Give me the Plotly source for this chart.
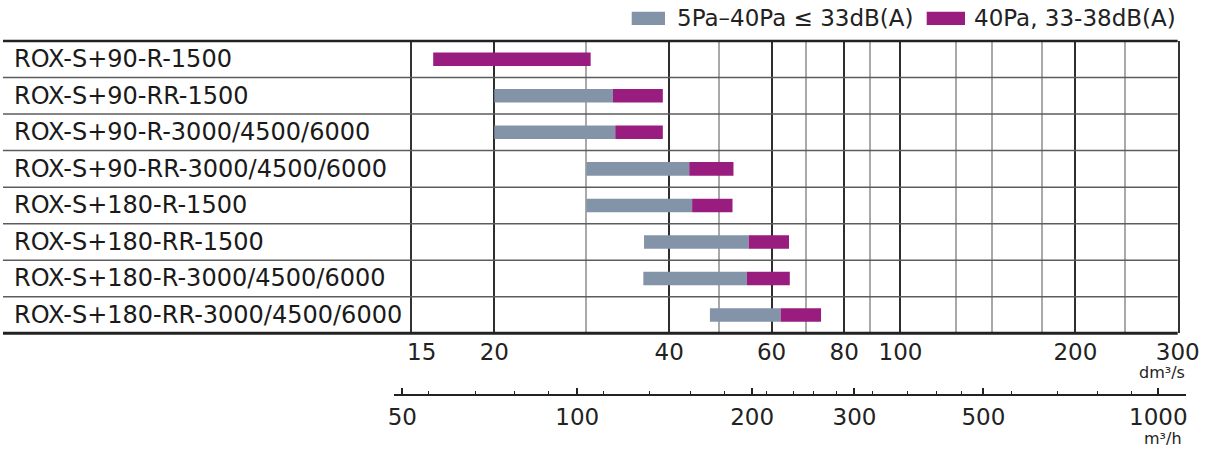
import plotly.graph_objects as go

# ---------------- data ----------------
labels = [
    "ROX-S+90-R-1500",
    "ROX-S+90-RR-1500",
    "ROX-S+90-R-3000/4500/6000",
    "ROX-S+90-RR-3000/4500/6000",
    "ROX-S+180-R-1500",
    "ROX-S+180-RR-1500",
    "ROX-S+180-R-3000/4500/6000",
    "ROX-S+180-RR-3000/4500/6000",
]
# 5Pa-40Pa <= 33dB(A) range (dm3/s)
quiet_start = [None, 20.0, 20.0, 28.8, 28.8, 36.2, 36.1, 47.0]
quiet_end = [None, 32.0, 32.3, 43.3, 43.8, 54.8, 54.4, 62.2]
# 40Pa, 33-38dB(A) range (dm3/s)
loud_start = [15.7, 32.0, 32.3, 43.3, 43.8, 54.8, 54.4, 62.2]
loud_end = [29.3, 39.0, 39.0, 51.6, 51.4, 64.3, 64.5, 73.0]

legend_names = ["5Pa\u201340Pa \u2264 33dB(A)", "40Pa, 33-38dB(A)"]

dm3s_ticks = [20, 40, 60, 80, 100, 200, 300]
dm3s_first_tick = [15]
dm3s_light_grid = [28.8, 48.7, 68.7, 88.6, 124.5, 144, 175, 243]
m3h_ticks = [50, 100, 200, 300, 500, 1000]
m3h_minor = [55.5, 66.7, 78, 89.4, 111, 133, 156.6, 179, 212, 236, 255, 279,
             322, 370, 415, 459, 558, 670, 787, 900, 1115]

# ---------------- style ----------------
FONT = "DejaVu Sans"
GREY = "#8494a8"
MAGENTA = "#981d7f"
DARK = "#222222"

W, H = 1206, 449
ML, MR = 3, 1206 - 1186
MT, MB = 41, 449 - 395
PW = W - ML - MR
PH = H - MT - MB


def px_x(p):
    return (p - ML) / PW


def px_y(p):
    return (H - MB - p) / PH


plot_left, plot_right, plot_bottom = 411.7, 1177.7, 333.3
x_dom = [px_x(plot_left), px_x(plot_right)]
y_dom = [px_y(plot_bottom), 1]

x_range = [1.15888, 2.47712]              # log10 dm3/s
x2_range = [1.68472, 3.04770]             # log10 m3/h
x2_dom = [px_x(394), 1]


def diff(a, b):
    return [None if (s is None or e is None) else e - s for s, e in zip(a, b)]


fig = go.Figure()
fig.add_trace(go.Bar(
    y=labels, x=diff(quiet_start, quiet_end), base=quiet_start,
    orientation="h", marker=dict(color=GREY, line=dict(width=0)),
    width=0.37, name=legend_names[0], showlegend=False, hoverinfo="skip"))
fig.add_trace(go.Bar(
    y=labels, x=diff(loud_start, loud_end), base=loud_start,
    orientation="h", marker=dict(color=MAGENTA, line=dict(width=0)),
    width=0.37, name=legend_names[1], showlegend=False, hoverinfo="skip"))
# invisible helpers so the extra axes are drawn
fig.add_trace(go.Scatter(x=[100], y=[labels[0]], xaxis="x2", yaxis="y",
                         mode="markers", marker=dict(opacity=0),
                         showlegend=False, hoverinfo="skip"))
fig.add_trace(go.Scatter(x=[20], y=[labels[0]], xaxis="x3", yaxis="y",
                         mode="markers", marker=dict(opacity=0),
                         showlegend=False, hoverinfo="skip"))

tickfont = dict(family=FONT, size=23, color=DARK)

fig.update_layout(
    template="none",
    width=W, height=H,
    margin=dict(l=ML, r=MR, t=MT, b=MB, pad=0, autoexpand=False),
    paper_bgcolor="white", plot_bgcolor="rgba(0,0,0,0)",
    barmode="overlay",
    font=dict(family=FONT, color=DARK),
    xaxis=dict(
        type="log", range=x_range, domain=x_dom, anchor="y", automargin=False,
        tickmode="array", tickvals=dm3s_ticks,
        ticktext=[str(v) for v in dm3s_ticks],
        ticks="", showline=False, zeroline=False,
        showgrid=True, gridcolor="#2e2e2e", gridwidth=1.5,
        minor=dict(tickmode="array", tickvals=dm3s_light_grid,
                   showgrid=True, gridcolor="#a9a9a9", gridwidth=1.5, ticks=""),
        tickfont=tickfont, ticklabelstandoff=3,
    ),
    xaxis3=dict(
        type="log", range=x_range, domain=x_dom, anchor="y", overlaying="x",
        automargin=False,
        tickmode="array", tickvals=dm3s_first_tick,
        ticktext=[str(v) for v in dm3s_first_tick],
        ticks="", showline=False, showgrid=False, zeroline=False,
        tickfont=tickfont, ticklabelstandoff=3,
    ),
    xaxis2=dict(
        type="log", range=x2_range, domain=x2_dom, anchor="free", position=0,
        automargin=False,
        tickmode="array", tickvals=m3h_ticks,
        ticktext=[str(v) for v in m3h_ticks],
        ticks="inside", ticklen=6, tickwidth=1.5, tickcolor=DARK,
        showline=True, linecolor=DARK, linewidth=2,
        showgrid=False, zeroline=False,
        minor=dict(tickmode="array", tickvals=m3h_minor, ticks="inside",
                   ticklen=3.5, tickwidth=1.2, tickcolor=DARK, showgrid=False),
        tickfont=tickfont, ticklabelstandoff=1,
    ),
    yaxis=dict(
        type="category", categoryorder="array", categoryarray=labels,
        range=[len(labels) - 0.5, -0.5], domain=y_dom, automargin=False,
        showticklabels=False, ticks="", showgrid=False, zeroline=False,
        showline=True, mirror=True, linecolor="#333333", linewidth=1.5,
    ),
)

# table rows: separators and labels
shapes = []
for i in range(len(labels) - 1):
    shapes.append(dict(type="line", xref="paper", yref="y",
                       x0=0, x1=x_dom[1], y0=i + 0.5, y1=i + 0.5,
                       line=dict(color="#5c5c5c", width=1.5), layer="above"))
shapes.append(dict(type="line", xref="paper", yref="y domain",
                   x0=0, x1=x_dom[1], y0=1, y1=1,
                   line=dict(color=DARK, width=2.5), layer="above"))
shapes.append(dict(type="line", xref="paper", yref="y domain",
                   x0=0, x1=x_dom[1], y0=0, y1=0,
                   line=dict(color=DARK, width=3), layer="above"))

# legend swatches
shapes.append(dict(type="rect", xref="paper", yref="paper",
                   x0=px_x(631.7), x1=px_x(665), y0=px_y(25), y1=px_y(11.7),
                   fillcolor=GREY, line=dict(width=0)))
shapes.append(dict(type="rect", xref="paper", yref="paper",
                   x0=px_x(926.7), x1=px_x(965), y0=px_y(25), y1=px_y(11.7),
                   fillcolor=MAGENTA, line=dict(width=0)))

annotations = []
for lab in labels:
    annotations.append(dict(text=lab, xref="paper", yref="y",
                            x=px_x(11.5), y=lab, xanchor="left", yanchor="middle",
                            showarrow=False,
                            font=dict(family=FONT, size=24, color="#1a1a1a")))
annotations.append(dict(text=legend_names[0], xref="paper", yref="paper",
                        x=px_x(675), y=px_y(18), xanchor="left", yanchor="middle",
                        showarrow=False, font=dict(family=FONT, size=23, color=DARK)))
annotations.append(dict(text=legend_names[1], xref="paper", yref="paper",
                        x=px_x(972), y=px_y(18), xanchor="left", yanchor="middle",
                        showarrow=False, font=dict(family=FONT, size=23, color=DARK)))
annotations.append(dict(text="dm\u00b3/s", xref="paper", yref="paper",
                        x=px_x(1187), y=px_y(372), xanchor="right", yanchor="middle",
                        showarrow=False, font=dict(family=FONT, size=16, color=DARK)))
annotations.append(dict(text="m\u00b3/h", xref="paper", yref="paper",
                        x=px_x(1184), y=px_y(438), xanchor="right", yanchor="middle",
                        showarrow=False, font=dict(family=FONT, size=16, color=DARK)))

fig.update_layout(shapes=shapes, annotations=annotations)

# remove the browser's default page margin so the figure fills the window
fig.write_html("out.html", config={"displayModeBar": False},
               post_script="document.body.style.margin='0px';")
